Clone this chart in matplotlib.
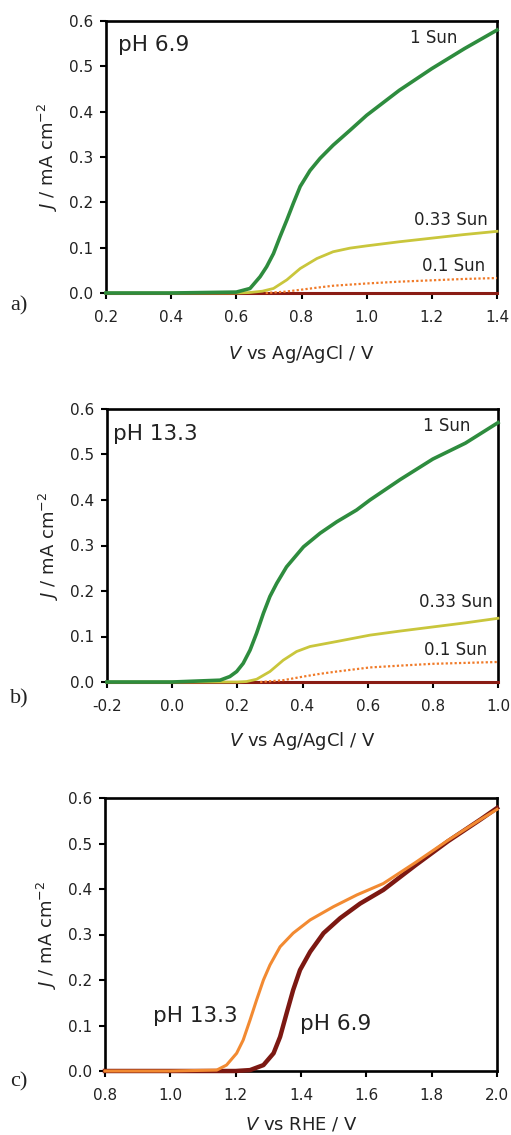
import matplotlib
matplotlib.use("Agg")
import matplotlib.pyplot as plt

plt.rcParams['font.family'] = ['DejaVu Sans']
plt.rcParams['mathtext.fontset'] = 'dejavusans'

# ---------------- data ----------------
# Panel a: pH 6.9, V vs Ag/AgCl
a_sun1_v = [0.2, 0.4, 0.6, 0.642, 0.673, 0.693, 0.714, 0.734, 0.755, 0.775, 0.796, 0.826,
            0.857, 0.897, 0.949, 1.0, 1.1, 1.2, 1.3, 1.4]
a_sun1_j = [0.0, 0.0, 0.002, 0.01, 0.036, 0.058, 0.087, 0.124, 0.161, 0.198, 0.235, 0.27,
            0.297, 0.326, 0.359, 0.392, 0.447, 0.495, 0.539, 0.58]
a_sun033_v = [0.2, 0.6, 0.64, 0.68, 0.714, 0.755, 0.796, 0.847, 0.897, 0.949, 1.0, 1.1, 1.2, 1.3, 1.4]
a_sun033_j = [0.0, 0.0, 0.001, 0.004, 0.01, 0.029, 0.054, 0.076, 0.091, 0.099, 0.104, 0.113,
              0.121, 0.129, 0.136]
a_sun01_v = [0.69, 0.75, 0.796, 0.85, 0.897, 1.0, 1.1, 1.2, 1.3, 1.4]
a_sun01_j = [0.0, 0.003, 0.007, 0.012, 0.016, 0.021, 0.025, 0.028, 0.031, 0.033]
a_dark_v = [0.2, 1.4]
a_dark_j = [0.0, 0.0]

# Panel b: pH 13.3, V vs Ag/AgCl
b_sun1_v = [-0.2, 0.0, 0.147, 0.177, 0.198, 0.218, 0.239, 0.259, 0.28, 0.30, 0.321, 0.351,
            0.403, 0.454, 0.505, 0.566, 0.607, 0.7, 0.8, 0.9, 1.0]
b_sun1_j = [0.0, 0.0, 0.004, 0.012, 0.023, 0.041, 0.07, 0.107, 0.151, 0.188, 0.217, 0.253,
            0.297, 0.327, 0.352, 0.378, 0.40, 0.445, 0.49, 0.525, 0.57]
b_sun033_v = [-0.2, 0.2, 0.228, 0.259, 0.30, 0.341, 0.382, 0.423, 0.505, 0.607, 0.7, 0.8, 0.9, 1.0]
b_sun033_j = [0.0, 0.0, 0.001, 0.006, 0.023, 0.048, 0.067, 0.078, 0.089, 0.103, 0.112, 0.121,
              0.13, 0.14]
b_sun01_v = [0.27, 0.341, 0.403, 0.454, 0.505, 0.607, 0.7, 0.8, 0.9, 1.0]
b_sun01_j = [0.0, 0.004, 0.012, 0.018, 0.023, 0.032, 0.036, 0.04, 0.042, 0.044]
b_dark_v = [-0.2, 1.0]
b_dark_j = [0.0, 0.0]

# Panel c: 1 Sun, V vs RHE
c_ph133_v = [0.8, 1.0, 1.142, 1.172, 1.203, 1.223, 1.244, 1.264, 1.285, 1.305, 1.336, 1.376,
             1.428, 1.499, 1.571, 1.652, 1.75, 1.85, 1.95, 2.0]
c_ph133_j = [0.0, 0.0, 0.002, 0.013, 0.039, 0.068, 0.112, 0.156, 0.20, 0.233, 0.273, 0.303,
             0.332, 0.361, 0.387, 0.412, 0.458, 0.507, 0.553, 0.575]
c_ph69_v = [0.8, 1.0, 1.2, 1.244, 1.285, 1.316, 1.336, 1.356, 1.376, 1.397, 1.428, 1.469,
            1.52, 1.581, 1.652, 1.75, 1.85, 1.95, 2.0]
c_ph69_j = [0.0, 0.0, 0.0, 0.002, 0.013, 0.039, 0.075, 0.127, 0.178, 0.222, 0.262, 0.303,
            0.336, 0.368, 0.398, 0.452, 0.505, 0.553, 0.578]

yticks = [0.0, 0.1, 0.2, 0.3, 0.4, 0.5, 0.6]
a_xticks = [0.2, 0.4, 0.6, 0.8, 1.0, 1.2, 1.4]
b_xticks = [-0.2, 0.0, 0.2, 0.4, 0.6, 0.8, 1.0]
c_xticks = [0.8, 1.0, 1.2, 1.4, 1.6, 1.8, 2.0]

# ---------------- styles ----------------
GREEN = '#2e8c3e'
YELLOW = '#c9c63c'
ORANGE = '#f07a28'
DARK = '#8a1c14'
C_ORANGE = '#f28a32'
C_DARK = '#7c1812'

W, H = 511, 1135
fig = plt.figure(figsize=(W / 100, H / 100), dpi=100)


def make_axes(l, r, t, b):
    return fig.add_axes([l / W, 1 - b / H, (r - l) / W, (b - t) / H])


def style(ax, xticks, xlim, xlabel, xlab_y):
    ax.set_xlim(*xlim)
    ax.set_ylim(0, 0.6)
    ax.set_xticks(xticks)
    ax.set_xticklabels([f"{t:.1f}" for t in xticks])
    ax.set_yticks(yticks)
    ax.set_yticklabels([f"{t:.1f}" for t in yticks])
    for s in ax.spines.values():
        s.set_linewidth(1.9)
        s.set_zorder(2.5)
    ax.tick_params(axis='both', direction='out', length=4.5, width=1.5,
                   labelsize=11, colors='black', labelcolor='#222222')
    ax.tick_params(axis='x', pad=8)
    ax.tick_params(axis='y', pad=5)
    ax.set_xlabel(xlabel, fontsize=13, color='#222222')
    ax.xaxis.set_label_coords(0.5, xlab_y)
    ax.xaxis.label.set_va('top')
    ax.set_ylabel(r'$J$ / mA cm$^{-2}$', fontsize=13, color='#222222')
    ax.yaxis.set_label_coords(-0.118, 0.5)


# Panel a
axa = make_axes(106, 497, 21, 293)
axa.plot(a_dark_v, a_dark_j, color=DARK, lw=2.2, zorder=3, clip_on=False)
axa.plot(a_sun01_v, a_sun01_j, color=ORANGE, lw=1.6, ls=(0, (1, 1)), zorder=3.1, clip_on=False)
axa.plot(a_sun033_v, a_sun033_j, color=YELLOW, lw=2.0, zorder=3.2, clip_on=False)
axa.plot(a_sun1_v, a_sun1_j, color=GREEN, lw=2.6, zorder=3.3, clip_on=False)
style(axa, a_xticks, (0.2, 1.4), r'$V$ vs Ag/AgCl / V', -0.183)
axa.text(0.031, 0.89, 'pH 6.9', transform=axa.transAxes, fontsize=15.5,
         va='baseline', ha='left', color='#222222')
axa.text(1.277, 0.5515, '1 Sun', fontsize=12, ha='right', va='baseline', color='#222222')
axa.text(1.372, 0.150, '0.33 Sun', fontsize=12, ha='right', va='baseline', color='#222222')
axa.text(1.363, 0.0485, '0.1 Sun', fontsize=12, ha='right', va='baseline', color='#222222')

# Panel b
axb = make_axes(107, 498, 409, 682)
axb.plot(b_dark_v, b_dark_j, color=DARK, lw=2.2, zorder=3, clip_on=False)
axb.plot(b_sun01_v, b_sun01_j, color=ORANGE, lw=1.6, ls=(0, (1, 1)), zorder=3.1, clip_on=False)
axb.plot(b_sun033_v, b_sun033_j, color=YELLOW, lw=2.0, zorder=3.2, clip_on=False)
axb.plot(b_sun1_v, b_sun1_j, color=GREEN, lw=2.6, zorder=3.3, clip_on=False)
style(axb, b_xticks, (-0.2, 1.0), r'$V$ vs Ag/AgCl / V', -0.175)
axb.text(0.016, 0.887, 'pH 13.3', transform=axb.transAxes, fontsize=15.5,
         va='baseline', ha='left', color='#222222')
axb.text(0.914, 0.552, '1 Sun', fontsize=12, ha='right', va='baseline', color='#222222')
axb.text(0.985, 0.165, '0.33 Sun', fontsize=12, ha='right', va='baseline', color='#222222')
axb.text(0.966, 0.059, '0.1 Sun', fontsize=12, ha='right', va='baseline', color='#222222')

# Panel c
axc = make_axes(105, 497, 798, 1071)
axc.plot(c_ph69_v, c_ph69_j, color=C_DARK, lw=3.2, zorder=3, clip_on=False)
axc.plot(c_ph133_v, c_ph133_j, color=C_ORANGE, lw=2.2, zorder=3.1, clip_on=False)
style(axc, c_xticks, (0.8, 2.0), r'$V$ vs RHE / V', -0.163)
axc.text(0.947, 0.108, 'pH 13.3', fontsize=15.5, ha='left', va='baseline', color='#222222')
axc.text(1.397, 0.090, 'pH 6.9', fontsize=15.5, ha='left', va='baseline', color='#222222')

# Panel letters
for lab, yb in (('a)', 310), ('b)', 703), ('c)', 1086)):
    fig.text(10 / W, 1 - yb / H, lab, fontsize=16, family='Liberation Serif',
             ha='left', va='baseline', color='#222222')

fig.savefig('out.png', dpi=100, facecolor='white')
